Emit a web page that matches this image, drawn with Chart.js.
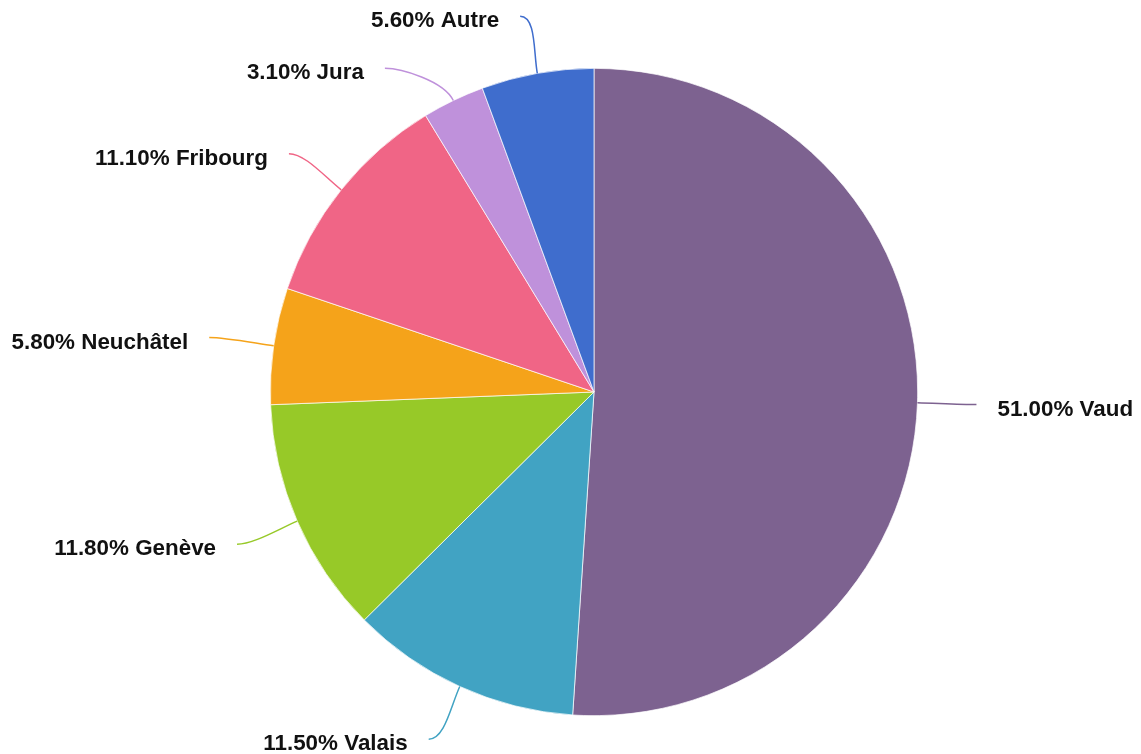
<!DOCTYPE html>
<html>
<head>
<meta charset="utf-8">
<script src="https://cdn.jsdelivr.net/npm/chart.js@4/dist/chart.umd.min.js"></script>
<style>
  html, body { margin: 0; padding: 0; background: #fff; }
  #wrap { width: 1141px; height: 754px; }
</style>
</head>
<body>
<div id="wrap"><canvas id="c" width="1141" height="754"></canvas></div>
<script>
const categories = ["Vaud", "Valais", "Genève", "Neuchâtel", "Fribourg", "Jura", "Autre"];
const shares = [51.0, 11.5, 11.8, 5.8, 11.1, 3.1, 5.6];
const sliceColors = ["#7D6290", "#41A3C3", "#97C928", "#F5A31A", "#F06586", "#BF91DB", "#3F6DCD"];

const leaderPlugin = {
  id: 'leaders',
  afterDatasetsDraw(chart) {
    const ctx = chart.ctx;
    const meta = chart.getDatasetMeta(0);
    const items = [];
    meta.data.forEach((arc, i) => {
      const p = arc.getProps(['x', 'y', 'startAngle', 'endAngle', 'outerRadius'], true);
      const mid = (p.startAngle + p.endAngle) / 2;
      const r = p.outerRadius;
      const R = r + 58;
      const dx = Math.cos(mid), dy = Math.sin(mid);
      items.push({
        i, cx: p.x, cy: p.y, r, R, dx, dy,
        sx: p.x + dx * r, sy: p.y + dy * r,
        c1x: p.x + dx * (r + 22), c1y: p.y + dy * (r + 22),
        ey: p.y + dy * R,
        right: dx >= 0
      });
    });
    [true, false].forEach(side => {
      const list = items.filter(it => it.right === side).sort((a, b) => a.ey - b.ey);
      for (let k = 1; k < list.length; k++) {
        if (list[k].ey < list[k - 1].ey + 52) list[k].ey = list[k - 1].ey + 52;
      }
    });
    items.forEach(it => {
      const ddy = it.ey - it.cy;
      const hx = Math.sqrt(Math.max(it.R * it.R - ddy * ddy, 0));
      it.ex = it.cx + (it.right ? hx + 1 : -hx - 7);
      const sgn = it.right ? 1 : -1;
      ctx.save();
      ctx.strokeStyle = sliceColors[it.i];
      ctx.lineWidth = 1.5;
      ctx.beginPath();
      ctx.moveTo(it.sx, it.sy);
      ctx.bezierCurveTo(it.c1x, it.c1y, it.ex - sgn * 16, it.ey, it.ex, it.ey);
      ctx.stroke();
      ctx.fillStyle = '#111';
      ctx.font = 'bold 22.4px "Liberation Sans", Arial, sans-serif';
      ctx.textBaseline = 'middle';
      ctx.textAlign = it.right ? 'left' : 'right';
      const txt = shares[it.i].toFixed(2) + '% ' + categories[it.i];
      ctx.fillText(txt, it.ex + sgn * 21, it.ey + 5);
      ctx.restore();
    });
  }
};

new Chart(document.getElementById('c'), {
  type: 'pie',
  data: {
    labels: categories,
    datasets: [{
      data: shares,
      backgroundColor: sliceColors,
      borderColor: '#ffffff',
      borderWidth: 0.7
    }]
  },
  options: {
    responsive: false,
    animation: false,
    layout: { padding: { left: 100, right: 53, top: 68, bottom: 38 } },
    plugins: {
      legend: { display: false },
      tooltip: { enabled: false }
    }
  },
  plugins: [leaderPlugin]
});
</script>
</body>
</html>
